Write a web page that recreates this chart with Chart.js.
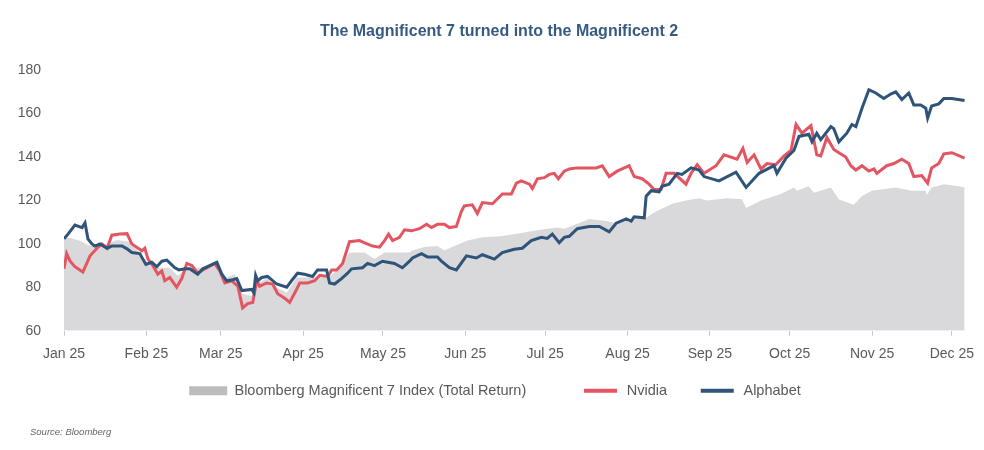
<!DOCTYPE html>
<html>
<head>
<meta charset="utf-8">
<script src="https://cdn.jsdelivr.net/npm/chart.js@4.4.0/dist/chart.umd.min.js"></script>
<style>
  html, body { margin: 0; padding: 0; background: #fff; }
  #wrap { position: relative; width: 984px; height: 450px; }
  #source { position: absolute; left: 30px; top: 426px; font: italic 9.5px 'Liberation Sans', Arial, sans-serif; color: #666; }
</style>
</head>
<body>
<div id="wrap">
  <canvas id="magChart"></canvas>
  <div id="source">Source: Bloomberg</div>
</div>
<script>
// x values are days since 1 Jan 2025
const monthDays = [0, 31, 59, 90, 120, 151, 181, 212, 243, 273, 304, 334];
const monthLabels = ['Jan 25', 'Feb 25', 'Mar 25', 'Apr 25', 'May 25', 'Jun 25', 'Jul 25', 'Aug 25', 'Sep 25', 'Oct 25', 'Nov 25', 'Dec 25'];

const idxDays = [0, 2.3, 6, 9.8, 14.7, 19.9, 24.8, 29.3, 32.3, 36.1, 39.8, 42.8, 46.2, 51.8, 56.7, 60.5, 64.2, 66.9, 70.6, 72.5, 76.6, 80.4, 83.8, 87.5, 93.5, 99.9, 103.7, 107.4, 113.1, 116.8, 120.6, 130, 131.1, 135.6, 140.5, 143.1, 146.9, 151.8, 157.4, 164.5, 172, 176.9, 181.8, 185.6, 188.2, 192.7, 197.6, 204, 207.7, 215.3, 219, 222.8, 228.8, 234, 238.9, 241.9, 249.4, 255.1, 256.6, 262.2, 269.7, 274.6, 275.7, 280.2, 282.1, 288.5, 291.5, 297.1, 300.2, 303.9, 312.9, 318.9, 324.2, 324.6, 326.4, 331, 336.6, 338.8];
const idxVals = [102.7, 102.7, 101.4, 99, 99, 101.8, 101, 94.5, 90, 89, 89, 85.3, 89, 89, 90, 84, 86, 77, 76, 82, 84, 79.5, 77.5, 84.5, 84.5, 85, 89, 96, 96, 93, 96, 96, 97, 98.5, 99, 97, 99, 101.5, 103, 103.5, 105, 106, 107, 107.5, 107, 109, 111.5, 110.5, 109.5, 112, 112, 115, 118.5, 120, 121, 120, 121, 120.5, 116.5, 120, 123, 126, 124.5, 126.5, 123.5, 126, 120.5, 118, 122, 124.5, 126, 124.5, 124.5, 122.5, 126, 127.5, 126.5, 126];

const nvDays = [0, 1, 2.3, 4.1, 7.1, 9.8, 12.4, 14.3, 16.2, 18, 21, 23.7, 25.5, 29.3, 30.4, 31.6, 33.4, 35.3, 36.8, 37.9, 39.8, 42.4, 44.3, 46.2, 48.1, 50.3, 53, 56.7, 58.6, 60.5, 63.1, 65.4, 67.2, 69.1, 71, 72.5, 73.6, 76.3, 78.5, 80.4, 83, 84.9, 87.5, 88.7, 91.7, 94.3, 96.2, 99.2, 100.7, 102.6, 104.8, 107.4, 111.2, 113.1, 116.1, 118.7, 120.6, 122.1, 123.6, 126.2, 128.1, 130.7, 133.7, 136.4, 138.2, 140.5, 143.1, 145, 147.6, 149.5, 150.6, 153.6, 155.5, 157.4, 161.2, 164.9, 168.3, 170.2, 172, 175.1, 176.2, 178.1, 180.7, 182.6, 184.4, 186, 188.2, 190.1, 193.1, 196.8, 200.2, 202.5, 205.1, 208.1, 212.6, 214.5, 217.5, 220.1, 222, 224.6, 226.5, 229.5, 234, 235.9, 238.2, 240.8, 245.3, 248.3, 253.2, 255.4, 257, 259.6, 262.2, 264.5, 267.8, 270.9, 273.5, 275.4, 277.6, 281, 283.2, 284.7, 287, 289.6, 291.5, 294.1, 296, 297.9, 300.2, 302.8, 304.7, 305.8, 309.5, 312.2, 315.2, 317.8, 319.7, 322.7, 324.9, 326.4, 329.1, 331, 334, 338.8];
const nvVals = [88.5, 95.5, 92, 89.5, 87, 94.5, 98, 100, 98, 104, 104.5, 104.7, 100, 96.8, 98, 93, 90, 86, 87.5, 83, 84.5, 80, 84, 91, 90, 86.5, 88.5, 91, 87.5, 82, 83, 80.5, 70.5, 72.5, 73, 83, 80.5, 82, 81.5, 77, 75, 73, 79, 82, 82, 83, 85.5, 85, 88, 88, 91, 101, 101.5, 100.5, 99, 98.5, 101.5, 104.5, 101.5, 103, 106.5, 106, 107, 109, 107.5, 109, 109, 107.5, 108, 115, 117.5, 118, 114, 119, 118.5, 123, 123, 128, 129, 127.5, 125.5, 130, 130.5, 132, 132.5, 130, 133.5, 134.5, 135, 135, 135, 136, 131, 133.5, 136, 131, 130, 127.5, 125, 125, 132.5, 132.5, 127.5, 132.5, 136.5, 132.5, 136, 141, 139, 144, 137.5, 141, 134.5, 137, 136.5, 140.5, 143, 155, 151, 154.5, 141, 140.5, 149, 143.5, 142, 140, 136, 134, 136, 133.5, 134.5, 132.5, 136, 137, 139, 137, 131, 131.5, 128, 135, 137, 141.5, 142, 139.5];

const googDays = [0, 1.5, 4.1, 6.8, 7.9, 9, 10.5, 11.6, 13.5, 16.2, 18, 21.8, 23.7, 25.5, 28.5, 30.8, 33, 34.9, 36.8, 38.7, 41.7, 43.2, 45.5, 47.3, 50.3, 52.2, 54.8, 57.5, 59.4, 61.2, 63.5, 65, 66.9, 70.6, 71.4, 72.1, 72.9, 74.4, 76.6, 80, 83.8, 85.6, 87.9, 90.5, 93.5, 95.4, 98.8, 99.9, 101.8, 104.4, 106.7, 108.2, 112.3, 114.2, 116.8, 119.8, 124.3, 127.3, 130, 131.1, 134.5, 136.7, 140.5, 142, 145, 147.6, 151.4, 155.1, 157.4, 161.9, 164.9, 169.4, 172.4, 175.8, 179.6, 181.8, 183.7, 186.3, 188.2, 190.1, 193.1, 197.6, 201.4, 205.1, 207.7, 211.5, 213.4, 214.5, 218.3, 219, 220.9, 223.9, 225, 227.6, 230.7, 232.5, 235.9, 238.9, 240.8, 246.4, 252.8, 256.6, 261.5, 267.1, 268.2, 271.6, 274.6, 276.5, 280.2, 281.4, 283.2, 284.7, 288.5, 289.6, 291.5, 294.5, 296.4, 297.9, 300.2, 302.8, 305.4, 308.4, 311, 312.9, 315.2, 317.8, 319.7, 322.3, 324.2, 324.9, 326.4, 329.1, 331, 334, 338.8];
const googVals = [102.3, 104.5, 108.7, 107.5, 109.7, 102.3, 100, 99, 100, 98, 99, 99, 97.7, 96, 95.5, 90.5, 91.5, 89.5, 92, 92.5, 89, 88, 88.5, 88.5, 86, 88.5, 90, 91.5, 86, 83, 83.5, 84, 78.5, 79, 77.5, 85.5, 83, 84.5, 85, 81.5, 80, 83, 86.5, 86, 85, 88, 88, 82, 81.5, 84, 86.5, 88.5, 89, 91, 90, 92, 91, 89, 92, 93.5, 95.5, 94, 94, 92, 89, 88, 94.5, 93.5, 95, 93, 96, 97.5, 98, 101.5, 103, 102.5, 104.5, 100.5, 103, 103.5, 107, 108, 108, 105.5, 109.5, 111.5, 110.5, 112.5, 112, 122, 124.5, 124, 126.5, 127.5, 132.5, 132, 135, 134, 131, 129, 133, 126, 132.5, 136, 132.5, 139.5, 143, 149.5, 150.5, 147, 151, 148, 154, 153, 147, 151, 155, 154, 162.5, 171, 169.5, 167, 169, 170, 166.5, 169.5, 164, 164, 162.5, 158, 163.5, 164.5, 167, 167, 166];

const yTicks = [60, 80, 100, 120, 140, 160, 180];

const toPoints = (days, vals) => days.map((d, i) => ({ x: d, y: vals[i] }));

const FONT = "'Liberation Sans', Arial, sans-serif";
const GREY_TEXT = '#595959';

const ctx = document.getElementById('magChart').getContext('2d');
const magChart = new Chart(ctx, {
    type: 'line',
    data: {
        datasets: [{
            label: 'Bloomberg Magnificent 7 Index (Total Return)',
            data: toPoints(idxDays, idxVals),
            backgroundColor: '#d9d9dc',
            borderWidth: 0,
            fill: 'start',
            pointRadius: 0,
            order: 3,
            legendColor: '#bcbcbc',
            legendGap: '           '
        }, {
            label: 'Nvidia',
            data: toPoints(nvDays, nvVals),
            borderColor: '#e45562',
            borderWidth: 3,
            fill: false,
            pointRadius: 0,
            order: 2,
            legendColor: '#e45562',
            legendGap: '     '
        }, {
            label: 'Alphabet',
            data: toPoints(googDays, googVals),
            borderColor: '#2f5479',
            borderWidth: 3,
            fill: false,
            pointRadius: 0,
            order: 1,
            legendColor: '#2f5479',
            legendGap: '  '
        }]
    },
    options: {
        responsive: true,
        maintainAspectRatio: false,
        animation: false,
        layout: { padding: { left: 14, right: 0, top: 0, bottom: 42 } },
        scales: {
            x: {
                type: 'linear',
                min: 0,
                // plot runs to the canvas edge; data stops at 338.8 (5 Dec)
                max: 345.6,
                afterBuildTicks: (scale) => {
                    scale.ticks = monthDays.map(v => ({ value: v }));
                },
                ticks: {
                    autoSkip: false,
                    maxRotation: 0,
                    color: GREY_TEXT,
                    font: { family: FONT, size: 14 },
                    padding: 10,
                    callback: (value) => monthLabels[monthDays.indexOf(value)]
                },
                grid: { drawOnChartArea: false, drawTicks: true, tickLength: 5, color: '#c8c8c8' },
                border: { display: false }
            },
            y: {
                min: 60,
                max: 180,
                afterBuildTicks: (scale) => {
                    scale.ticks = yTicks.map(v => ({ value: v }));
                },
                afterFit: (scale) => { scale.width = 50; },
                ticks: {
                    color: GREY_TEXT,
                    font: { family: FONT, size: 14 },
                    padding: 23
                },
                grid: { display: false, drawTicks: false },
                border: { display: false }
            }
        },
        plugins: {
            title: {
                display: true,
                text: 'The Magnificent 7 turned into the Magnificent 2',
                color: '#365b82',
                font: { family: FONT, size: 16, weight: 'bold' },
                padding: { top: 22, bottom: 29 }
            },
            legend: {
                position: 'bottom',
                labels: {
                    color: GREY_TEXT,
                    font: { family: FONT, size: 14.5 },
                    boxWidth: 38,
                    boxHeight: 9,
                    padding: 11,
                    generateLabels: (chart) => chart.data.datasets.map((ds, i) => ({
                        text: ds.label + ds.legendGap,
                        fillStyle: ds.legendColor,
                        // white stroke trims the line items down to a thin bar
                        strokeStyle: '#ffffff',
                        lineWidth: i === 0 ? 0 : 5,
                        fontColor: GREY_TEXT,
                        hidden: false,
                        datasetIndex: i
                    }))
                }
            },
            tooltip: { enabled: false }
        }
    }
});
</script>
</body>
</html>
